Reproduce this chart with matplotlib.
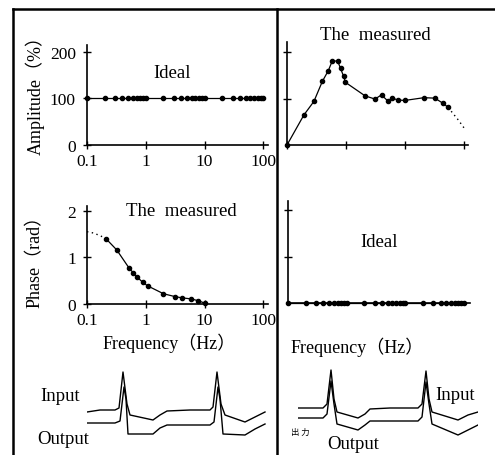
import numpy as np
import matplotlib
matplotlib.use("Agg")
import matplotlib.pyplot as plt
from matplotlib.lines import Line2D
from matplotlib.ticker import NullLocator, FixedLocator, NullFormatter

# ---------------- data ----------------
ideal_freq = [0.1, 0.2, 0.3, 0.4, 0.5, 0.6, 0.7, 0.8, 0.9,
              1, 2, 3, 4, 5, 6, 7, 8, 9,
              10, 20, 30, 40, 50, 60, 70, 80, 90, 100]
ideal_amp = [100] * len(ideal_freq)
ideal_phase = [0] * len(ideal_freq)

meas_amp_freq = [0.1, 0.194, 0.286, 0.397, 0.5, 0.585, 0.72, 0.81, 0.91, 0.98,
                 2.1, 3.1, 4.0, 5.1, 6.1, 7.6, 9.9, 21, 32, 44, 54]
meas_amp = [0, 65, 94, 137, 160, 181, 181, 165, 148, 135,
            106, 99, 108, 95, 101, 97, 96, 102, 101, 90, 81]
amp_tail_freq = [54, 66, 80, 104]
amp_tail = [81, 67, 54, 34]

meas_ph_freq = [0.21, 0.32, 0.52, 0.61, 0.72, 0.88, 1.07, 2.0, 3.1, 4.2, 5.9, 7.8, 10]
meas_ph = [1.40, 1.16, 0.77, 0.67, 0.57, 0.47, 0.39, 0.22, 0.16, 0.13, 0.11, 0.07, 0.02]
ph_head_freq = [0.1, 0.13, 0.17, 0.21]
ph_head = [1.55, 1.52, 1.46, 1.40]

# waveform traces (time in arbitrary units, amplitude arbitrary)
wl_t_in = [0, 13, 28, 32, 36, 40, 43, 66, 73, 80, 103, 123, 126, 130, 134, 138, 158, 168, 178]
wl_v_in = [32, 34, 34, 36, 72, 40, 29, 24, 29, 33, 34, 34, 37, 72, 40, 29, 22, 27, 32]
wl_t_out = [0, 28, 33, 37, 39, 41, 66, 73, 80, 123, 127, 131, 133, 136, 158, 168, 178]
wl_v_out = [21, 21, 23, 57, 45, 10, 10, 16, 19, 19, 22, 57, 45, 10, 9, 15, 20]

wr_t_in = [0, 25, 29, 33, 36, 39, 60, 67, 72, 92, 120, 124, 128, 131, 134, 160, 170, 180]
wr_v_in = [36, 36, 40, 74, 45, 32, 26, 30, 35, 36, 36, 40, 73, 45, 32, 24, 29, 32]
wr_t_out = [0, 25, 29, 33, 36, 39, 60, 67, 72, 120, 124, 128, 131, 134, 160, 170, 180]
wr_v_out = [26, 26, 30, 63, 40, 20, 14, 19, 23, 23, 27, 62, 40, 20, 9, 14, 19]

amp_ticks = [0, 100, 200]
amp_ticklabels = ["0", "100", "200"]
ph_ticks = [0, 1, 2]
ph_ticklabels = ["0", "1", "2"]
f_ticks = [0.1, 1, 10, 100]
f_ticklabels = ["0.1", "1", "10", "100"]

# ---------------- style ----------------
W, H = 495, 456
plt.rcParams['font.family'] = ['Liberation Serif', 'Noto Sans CJK JP', 'DejaVu Sans']
plt.rcParams['axes.linewidth'] = 1.2
fig = plt.figure(figsize=(W / 100, H / 100), dpi=100)
fig.patch.set_facecolor('white')


def ax_px(x0, y0, x1, y1):
    return fig.add_axes([x0 / W, 1 - y1 / H, (x1 - x0) / W, (y1 - y0) / H])


def style(ax, ylim, yticks, xlim=(0.1, 120), ylabels=None, xlabels=None, xticks=True):
    ax.set_xscale('log')
    ax.set_xlim(*xlim)
    ax.set_ylim(*ylim)
    for s in ['top', 'right']:
        ax.spines[s].set_visible(False)
    ax.patch.set_alpha(0)
    ax.xaxis.set_minor_locator(NullLocator())
    ax.xaxis.set_minor_formatter(NullFormatter())
    if xticks:
        ax.xaxis.set_major_locator(FixedLocator(f_ticks))
    else:
        ax.xaxis.set_major_locator(NullLocator())
    ax.yaxis.set_major_locator(FixedLocator(yticks))
    ax.tick_params(direction='inout', length=6, width=1, labelsize=12.5)
    ax.tick_params(axis='x', pad=3)
    ax.tick_params(axis='y', pad=5)
    if xlabels is not None:
        ax.set_xticklabels(xlabels)
    else:
        ax.xaxis.set_major_formatter(NullFormatter())
    if ylabels is not None:
        ax.set_yticklabels(ylabels)
    else:
        ax.yaxis.set_major_formatter(NullFormatter())


mk = dict(marker='o', markersize=3.0, color='black', lw=0.9)

# amplitude ideal
a1 = ax_px(87, 46, 268, 146)
style(a1, (0, 215), amp_ticks, ylabels=amp_ticklabels, xlabels=f_ticklabels)
a1.plot(ideal_freq, ideal_amp, clip_on=False, **mk)
a1.text(0.47, 0.73, "Ideal", transform=a1.transAxes, ha='center', va='center', fontsize=13.5)

# amplitude measured
a2 = ax_px(287, 43, 468, 146)
style(a2, (0, 222), [100, 200], xlim=(0.1, 117))
a2.plot(meas_amp_freq, meas_amp, clip_on=False, **mk)
a2.plot(amp_tail_freq, amp_tail, color='black', lw=1.0, ls=(0, (1, 2.5)), clip_on=False)
a2.text(0.49, 1.07, "The  measured", transform=a2.transAxes, ha='center', va='center', fontsize=13.5)

# phase measured
a3 = ax_px(87, 207, 268, 305)
style(a3, (0, 2.1), ph_ticks, ylabels=ph_ticklabels, xlabels=f_ticklabels)
a3.plot(meas_ph_freq, meas_ph, clip_on=False, **mk)
a3.plot(ph_head_freq, ph_head, color='black', lw=1.0, ls=(0, (1, 2.5)), clip_on=False)
a3.text(0.52, 0.95, "The  measured", transform=a3.transAxes, ha='center', va='center', fontsize=13.5)

# phase ideal
a4 = ax_px(288, 202, 470, 304)
style(a4, (0, 2.2), [1, 2], xlim=(0.1, 126), xticks=False)
a4.plot(ideal_freq, ideal_phase, clip_on=False, **mk)
a4.text(0.5, 0.6, "Ideal", transform=a4.transAxes, ha='center', va='center', fontsize=13.5)

# axis titles
fig.text(35 / W, 1 - 91 / H, "Amplitude（%）", rotation=90, ha='center', va='center', fontsize=13)
fig.text(35 / W, 1 - 257 / H, "Phase（rad）", rotation=90, ha='center', va='center', fontsize=13)
fig.text(169 / W, 1 - 343 / H, "Frequency（Hz）", ha='center', va='center', fontsize=13)
fig.text(357 / W, 1 - 347 / H, "Frequency（Hz）", ha='center', va='center', fontsize=13)

# waveforms
w1 = ax_px(87, 365, 267, 445)
w1.set_xlim(0, 180); w1.set_ylim(0, 80); w1.axis('off')
w1.plot(wl_t_in, wl_v_in, color='black', lw=1.0)
w1.plot(wl_t_out, wl_v_out, color='black', lw=1.0)

w2 = ax_px(298, 365, 478, 445)
w2.set_xlim(0, 180); w2.set_ylim(0, 80); w2.axis('off')
w2.plot(wr_t_in, wr_v_in, color='black', lw=1.0)
w2.plot(wr_t_out, wr_v_out, color='black', lw=1.0)

fig.text(60 / W, 1 - 397 / H, "Input", ha='center', va='center', fontsize=13.5)
fig.text(63 / W, 1 - 440 / H, "Output", ha='center', va='center', fontsize=13.5)
fig.text(455 / W, 1 - 396 / H, "Input", ha='center', va='center', fontsize=13.5)
fig.text(353 / W, 1 - 445 / H, "Output", ha='center', va='center', fontsize=13.5)
fig.text(300 / W, 1 - 432 / H, "出 力", ha='center', va='center', fontsize=6,
         family=['Noto Sans CJK JP'])

# frame
for xs, ys in [((13, 13), (10, 456)), ((13, 495), (10, 10)), ((277, 277), (10, 456))]:
    fig.add_artist(Line2D([x / W for x in xs], [1 - y / H for y in ys],
                          transform=fig.transFigure, color='black', lw=1.8))

fig.savefig("out.png", dpi=100)
